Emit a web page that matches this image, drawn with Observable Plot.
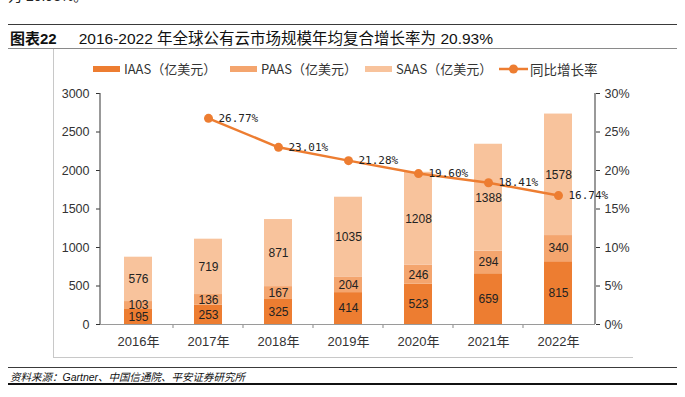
<!DOCTYPE html>
<html><head><meta charset="utf-8">
<script src="https://cdn.jsdelivr.net/npm/d3@7"></script>
<script src="https://cdn.jsdelivr.net/npm/@observablehq/plot@0.6"></script>
<style>
body{margin:0;background:#fff;}
#page{position:relative;width:685px;height:397px;overflow:hidden;background:#fff;font-family:"Liberation Sans","Noto Sans CJK SC",sans-serif;color:#222;}
.abs{position:absolute;white-space:nowrap;}
#chart{position:absolute;left:0;top:50px;}
</style></head><body><div id="page">
<div class="abs" style="left:8px;top:-14px;font-size:14px;line-height:20px;">为 20.93%。</div>
<div class="abs" style="left:8px;top:24px;width:669px;height:0;border-top:1.5px solid #3a3a3a;"></div>
<div class="abs" id="title" style="left:10px;top:29px;font-size:15px;line-height:20px;color:#111;"><b>图表22</b><span style="margin-left:22px;font-size:15.5px;">2016-2022 年全球公有云市场规模年均复合增长率为 20.93%</span></div>
<div class="abs" style="left:8px;top:48px;width:669px;height:0;border-top:1px solid #8a8a8a;"></div>
<div class="abs" style="left:53px;top:49px;width:0;height:308px;border-left:1px solid #c8c8c8;"></div>
<div class="abs" style="left:53px;top:357px;width:580px;height:0;border-top:1px solid #c8c8c8;"></div>
<div id="legend"></div>
<div id="chart"></div>
<div class="abs" style="left:8px;top:367px;width:669px;height:0;border-top:1.5px solid #3a3a3a;"></div>
<div class="abs" id="source" style="left:10px;top:370px;font-size:10.5px;line-height:14px;font-style:italic;color:#111;">资料来源：Gartner、中国信通院、平安证券研究所</div>
<div class="abs" style="left:8px;top:383px;width:669px;height:0;border-top:2px solid #111;"></div>
</div>
<script>
const years = ["2016年","2017年","2018年","2019年","2020年","2021年","2022年"];
const iaas = [195,253,325,414,523,659,815];
const paas = [103,136,167,204,246,294,340];
const saas = [576,719,871,1035,1208,1388,1578];
const growth = [null,26.77,23.01,21.28,19.60,18.41,16.74];
const seriesNames = ["IAAS（亿美元）","PAAS（亿美元）","SAAS（亿美元）"];
const lineName = "同比增长率";
const seriesColors = ["#ED7D31","#F4A56E","#F8C39C"];
const lineColor = "#ED7D31";
const yTicks = [0,500,1000,1500,2000,2500,3000];
const pctTicks = [0,5,10,15,20,25,30];

const seriesValues = [iaas, paas, saas];
const stackData = [];
seriesNames.forEach((s, si) => years.forEach((y, i) => stackData.push({year: y, series: s, value: seriesValues[si][i]})));
const rateData = years.map((y, i) => ({year: y, rate: growth[i]})).filter(d => d.rate != null);

const numFont = "'Liberation Sans', Arial, 'Noto Sans CJK SC', sans-serif";
const plot = Plot.plot({
  width: 685, height: 310,
  marginTop: 43, marginBottom: 36, marginLeft: 100, marginRight: 90,
  style: {fontFamily: numFont, fontSize: "12px", color: "#333", background: "transparent"},
  x: {domain: years, paddingInner: 0.6, paddingOuter: 0.3, label: null},
  y: {domain: [0, 3000], label: null},
  color: {domain: seriesNames, range: seriesColors},
  marks: [
    Plot.barY(stackData, {x: "year", y: "value", fill: "series", order: null}),
    Plot.text(stackData, Plot.stackY({x: "year", y: "value", z: "series", order: null, text: d => String(d.value), fontSize: 12, fontFamily: numFont, fill: "#222"})),
    Plot.ruleY([0], {stroke: "#9a9a9a", strokeWidth: 1.2}),
    Plot.line(rateData, {x: "year", y: d => d.rate * 100, stroke: lineColor, strokeWidth: 2.5}),
    Plot.dot(rateData, {x: "year", y: d => d.rate * 100, fill: lineColor, r: 4.5}),
    Plot.text(rateData, {x: "year", y: d => d.rate * 100, text: d => d.rate.toFixed(2) + "%", dx: 10, textAnchor: "start", fontFamily: "'DejaVu Sans Mono', monospace", fontSize: 11, fill: "#222"}),
    Plot.axisY({anchor: "left", ticks: yTicks, tickFormat: v => String(v), tickSize: 4, tickPadding: 7, label: null, fontSize: 12.5, fontFamily: numFont}),
    Plot.axisY({anchor: "right", ticks: yTicks, tickFormat: v => (v / 100) + "%", tickSize: 4, tickPadding: 5, label: null, fontSize: 12.5, fontFamily: numFont}),
    Plot.axisX({tickSize: 0, tickPadding: 12, label: null, fontSize: 13, fontFamily: numFont})
  ]
});
document.getElementById("chart").appendChild(plot);

// axis lines and category boundary ticks from the plot's own scales
const xs = plot.scale("x"), ys = plot.scale("y");
const svg = d3.select(plot);
const y0 = ys.apply(0), yTop = ys.apply(3000);
const [xr0, xr1] = xs.range;
const step = xs.apply(years[1]) - xs.apply(years[0]);
const bw = xs.bandwidth != null ? xs.bandwidth : step * 0.4;
const g = svg.append("g").attr("stroke", "#555").attr("stroke-width", 1.2);
g.append("line").attr("x1", xr0).attr("x2", xr0).attr("y1", y0).attr("y2", yTop);
g.append("line").attr("x1", xr1).attr("x2", xr1).attr("y1", y0).attr("y2", yTop);
years.slice(1).forEach(y => {
  const bx = xs.apply(y) - (step - bw) / 2;
  g.append("line").attr("x1", bx).attr("x2", bx).attr("y1", y0).attr("y2", y0 + 4).attr("stroke", "#9a9a9a");
});

// legend
const legend = document.getElementById("legend");
const legendX = [93, 230, 365];
seriesNames.forEach((s, i) => {
  const sw = document.createElement("div");
  sw.className = "abs";
  sw.style.cssText = `left:${legendX[i]}px;top:66px;width:27px;height:6px;background:${seriesColors[i]};`;
  legend.appendChild(sw);
  const t = document.createElement("div");
  t.className = "abs";
  t.style.cssText = `left:${legendX[i] + 31}px;top:60px;font-size:13px;line-height:18px;color:#333;font-family:'Noto Sans CJK SC',sans-serif;`;
  t.textContent = s;
  legend.appendChild(t);
});
const lsv = document.createElement("div");
lsv.className = "abs";
lsv.style.cssText = "left:499px;top:61px;";
lsv.innerHTML = `<svg width="30" height="16"><line x1="0" x2="29" y1="8" y2="8" stroke="${lineColor}" stroke-width="2.5"/><circle cx="14.5" cy="8" r="4.5" fill="${lineColor}"/></svg>`;
legend.appendChild(lsv);
const lt = document.createElement("div");
lt.className = "abs";
lt.style.cssText = "left:530px;top:59px;font-size:13.5px;line-height:20px;color:#333;font-family:'Noto Sans CJK SC',sans-serif;";
lt.textContent = lineName;
legend.appendChild(lt);
</script>
</body></html>
